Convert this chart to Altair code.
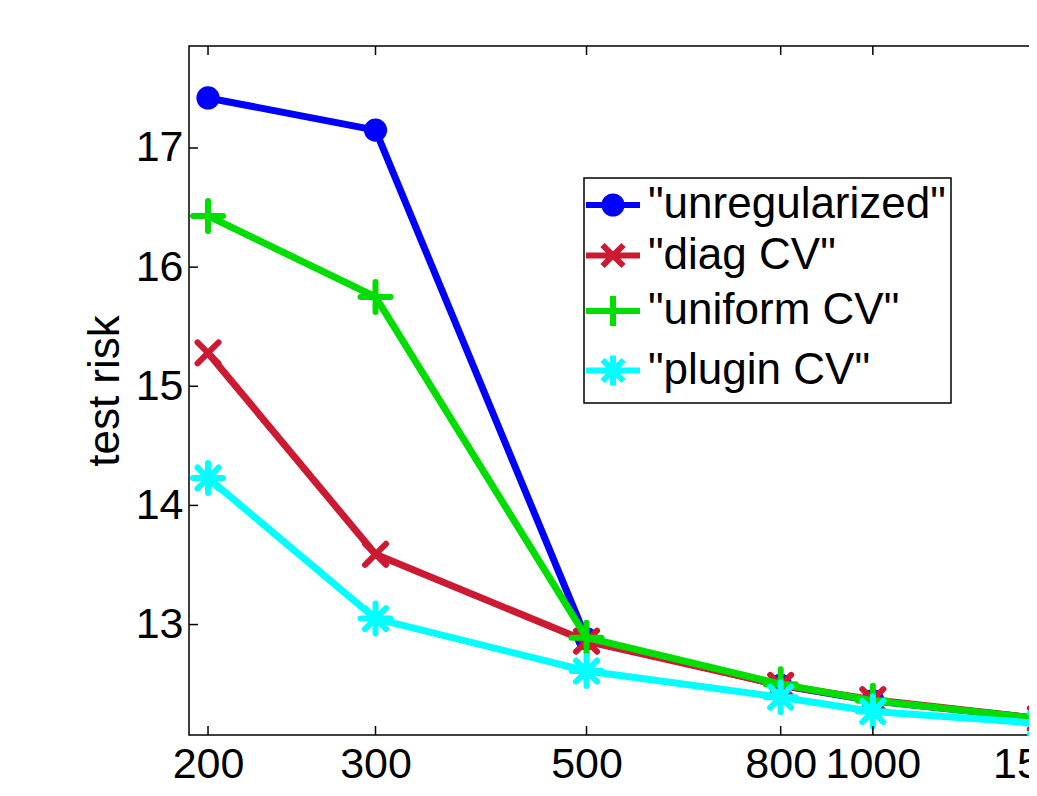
import altair as alt
import pandas as pd

# ---- data ----
n_points = [200, 300, 500, 800, 1000, 1500]
series_names = ['"unregularized"', '"diag CV"', '"uniform CV"', '"plugin CV"']
unregularized = [17.42, 17.15, 12.88, 12.49, 12.36, 12.21]
diag_cv = [15.28, 13.59, 12.86, 12.49, 12.37, 12.21]
uniform_cv = [16.43, 15.75, 12.89, 12.50, 12.36, 12.21]
plugin_cv = [14.23, 13.05, 12.61, 12.39, 12.27, 12.17]
x_ticks = [200, 300, 500, 800, 1000, 1500]
y_ticks = [13, 14, 15, 16, 17]

colors = ["#0000FF", "#CC1A33", "#00DD00", "#00FFFF"]

# marker shapes (unit = 15 px with size 900)
X_PATH = "M-0.7,-0.7L0.7,0.7M-0.7,0.7L0.7,-0.7"
PLUS_PATH = "M0,-1L0,1M-1,0L1,0"
STAR_PATH = "M0,-1L0,1M-1,0L1,0M-0.7,-0.7L0.7,0.7M-0.7,0.7L0.7,-0.7"
DOT_PATH = ("M0.57,0A0.57,0.57,0,1,1,-0.57,0A0.57,0.57,0,1,1,0.57,0"
            "M0.23,0A0.23,0.23,0,1,1,-0.23,0A0.23,0.23,0,1,1,0.23,0")
LINE_SEG = "M-1.8,0L1.8,0"
legend_paths = [DOT_PATH + LINE_SEG, X_PATH + LINE_SEG,
                PLUS_PATH + LINE_SEG, STAR_PATH + LINE_SEG]

values = [unregularized, diag_cv, uniform_cv, plugin_cv]
rows = []
for name, vals in zip(series_names, values):
    for n, v in zip(n_points, vals):
        rows.append({"series": name, "n": n, "risk": v})
df = pd.DataFrame(rows)

W, H = 878, 689
FONT = "Liberation Sans"

xscale = alt.Scale(type="log", domain=[191, 1600], nice=False)
yscale = alt.Scale(domain=[12.073, 17.856], nice=False, zero=False)

xaxis = alt.Axis(values=x_ticks, format="d", labelFontSize=43, labelFont=FONT,
                 labelColor="black", ticks=False, tickSize=0, domain=False,
                 grid=False, labelPadding=42, labelBaseline="alphabetic",
                 labelOverlap=False, labelFlush=False,
                 title="number of training points (n)", titleFontSize=44,
                 titleFont=FONT, titleFontWeight="normal", titleColor="black",
                 titleX=W / 2 - 3, titleY=767, titleBaseline="alphabetic")
yaxis = alt.Axis(values=y_ticks, labelFontSize=43, labelFont=FONT,
                 labelColor="black", ticks=False, tickSize=0, domain=False,
                 grid=False, labelPadding=6, title="test risk",
                 titleFontSize=44, titleFont=FONT, titleFontWeight="normal",
                 titleColor="black", titleX=-71, titleY=H / 2,
                 titleBaseline="alphabetic", titleAngle=-90)

X = alt.X("n:Q", scale=xscale, axis=xaxis)
Y = alt.Y("risk:Q", scale=yscale, axis=yaxis)

layers = []
marker_defs = [("circle", True, 540), (X_PATH, False, 900),
               (PLUS_PATH, False, 900), (STAR_PATH, False, 900)]
for name, col, (shape, filled, size) in zip(series_names, colors, marker_defs):
    base = alt.Chart(df).transform_filter(alt.datum.series == name)
    line = base.mark_line(color=col, strokeWidth=7, strokeJoin="round",
                          strokeCap="round").encode(x=X, y=Y)
    if filled:
        pts = base.mark_point(shape=shape, filled=True, color=col, size=size,
                              opacity=1).encode(x=X, y=Y)
    else:
        pts = base.mark_point(shape=shape, filled=False, color=col, size=size,
                              strokeWidth=6, strokeCap="round", opacity=1
                              ).encode(x=X, y=Y)
    layers += [line, pts]

# inward ticks
xt = pd.DataFrame({"n": x_ticks})
yt = pd.DataFrame({"risk": y_ticks})
tick_style = dict(color="black", strokeWidth=1.5)
layers.append(alt.Chart(xt).mark_rule(**tick_style).encode(
    x=X, y=alt.value(H), y2=alt.value(H - 9)))
layers.append(alt.Chart(xt).mark_rule(**tick_style).encode(
    x=X, y=alt.value(0), y2=alt.value(9)))
layers.append(alt.Chart(yt).mark_rule(**tick_style).encode(
    y=Y, x=alt.value(0), x2=alt.value(9)))
layers.append(alt.Chart(yt).mark_rule(**tick_style).encode(
    y=Y, x=alt.value(W), x2=alt.value(W - 9)))

# legend layer (no visible marks)
leg = alt.Legend(title=None, orient="none", legendX=395, legendY=132,
                 padding=5, strokeColor="black", fillColor="white",
                 labelFontSize=44, labelFont=FONT, labelColor="black",
                 symbolSize=900, symbolStrokeWidth=6, symbolOpacity=1,
                 symbolOffset=2, rowPadding=5.5, labelOffset=13, labelLimit=0)
legend_layer = alt.Chart(df).transform_filter("false").mark_point(
    filled=False, size=900, strokeWidth=6, opacity=1).encode(
    color=alt.Color("series:N", scale=alt.Scale(domain=series_names, range=colors),
                    legend=leg),
    shape=alt.Shape("series:N", scale=alt.Scale(domain=series_names, range=legend_paths),
                    legend=leg),
)
layers.append(legend_layer)

chart = alt.layer(*layers).properties(
    width=W, height=H,
    autosize=alt.AutoSizeParams(type="none"),
    padding={"left": 181, "top": 38, "right": -38, "bottom": 53},
    background="white",
).configure(font=FONT).configure_view(
    stroke="black", strokeWidth=1.5
).configure_legend(strokeWidth=1.5, cornerRadius=0)

chart.save("out.html", embed_options={"renderer": "svg", "actions": False})
